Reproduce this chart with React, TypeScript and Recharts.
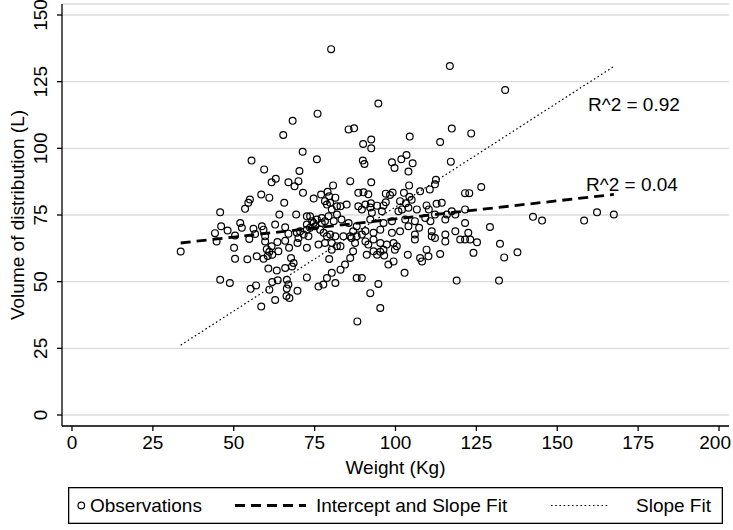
import {
  CartesianGrid,
  Label,
  ReferenceDot,
  Scatter,
  ScatterChart,
  XAxis,
  YAxis,
} from "recharts";

// body weight (kg) and volume of distribution (L), one entry per patient
const weightKg = [
  33.6, 44.2, 44.7, 45.8, 46.1, 48.1, 45.8, 48.8, 50.4, 50.1, 50.4, 52.0, 52.5, 53.5, 54.5, 55.0, 54.2, 54.8, 55.5, 55.2, 56.1, 56.6, 57.1, 56.9,
  58.5, 58.5, 58.7, 59.2, 59.7, 59.7, 60.2, 61.0, 60.5, 59.2, 61.9, 61.7, 59.4, 61.0, 61.7, 63.0, 60.7, 63.3, 65.9, 61.9,
  63.6, 61.0, 62.8, 62.8, 63.5, 64.1, 65.3, 65.6, 65.9, 66.9, 67.1, 66.9, 68.8, 70.0, 66.4, 66.9, 66.4, 66.3, 67.2, 68.2,
  67.7, 68.5, 68.0, 69.3, 69.5, 70.0, 69.7, 69.7, 70.3, 71.3, 65.9, 63.8,
  75.7, 75.9, 71.4, 77.0, 79.0, 74.7, 80.7, 86.0, 80.1, 85.5, 87.2, 79.5, 78.2, 79.8, 81.4, 81.9, 80.3, 83.0, 84.9, 78.8,
  88.5, 89.6, 72.6, 75.7, 77.2, 79.3, 81.9, 83.3, 80.9, 74.2, 72.6, 73.6, 85.5, 88.0, 86.9, 89.6, 77.2, 74.7, 75.2, 78.2,
  73.6, 72.6, 70.5, 71.6, 76.7, 77.8, 78.8, 79.8, 81.4, 80.3, 78.2, 83.9, 86.0, 88.0, 73.1, 72.6, 76.2, 80.3, 81.9, 79.5,
  86.9, 86.0, 84.4, 83.0, 80.3, 78.8, 81.4, 77.7, 76.2, 72.6, 88.0, 89.6, 83.0, 87.5, 86.4,
  88.5, 90.1, 91.6, 97.0, 98.3, 99.1, 102.6, 104.2, 104.3, 94.7, 104.4, 90.0, 92.5, 92.5, 89.9, 90.4, 98.9, 101.8, 103.4, 105.3,
  99.7, 104.0, 92.5, 107.6, 90.7, 92.4, 92.2, 94.3, 96.3, 97.0, 95.8, 92.7, 101.4, 103.2, 105.0, 100.9, 102.0, 104.0, 106.6, 92.2,
  96.3, 98.9, 103.0, 106.0, 93.2, 95.3, 98.9, 101.4, 106.0, 90.7, 104.0, 106.0, 90.7, 91.6, 93.2, 95.3, 97.3, 99.4, 100.4, 96.3,
  95.3, 93.2, 94.3, 96.5, 99.8, 99.4, 97.8, 91.1, 103.8, 102.8, 94.7, 92.2, 95.3, 88.2,
  107.6, 108.2, 109.6, 110.2, 113.8, 118.9, 132.0, 129.2, 132.3, 133.6, 137.7, 133.9, 116.8, 123.4, 117.4, 113.8, 117.1, 126.5, 121.5, 122.8,
  112.5, 112.2, 110.6, 109.6, 110.3, 112.7, 114.3, 115.9, 118.5, 117.4, 121.5, 109.2, 110.8, 115.4, 112.2, 111.2, 115.4, 118.5, 112.2, 115.4,
  111.2, 120.0, 121.5, 123.1, 125.2, 124.1, 122.5, 121.5, 107.3,
  142.5, 145.3, 158.3, 162.3, 167.5,
];

const volumeL = [
  61.3, 68.2, 65.1, 76, 70.8, 69.2, 50.7, 49.5, 67.3, 62.7, 58.6, 72, 70.2, 77.3, 79.6, 80.8, 58.4, 66, 95.4, 47.3, 69.8, 67.9, 59.5, 48.6,
  82.7, 40.7, 70.8, 69.5, 67, 65.1, 62.2, 61.2, 59.6, 58.6, 60.1, 63.3, 92.1, 81.5, 87.3, 88.6, 54.9, 54.2, 55.1, 49.9,
  50.5, 47, 43.1, 71.4, 64.9, 75.2, 105, 79.6, 70.4, 68, 62.7, 87.3, 85.8, 87.7, 50.7, 48.9, 47.4, 44.6, 43.9, 110.3,
  58.9, 57, 55.7, 75.2, 68.3, 66.4, 64.5, 46.6, 91.5, 98.7, 65.3, 61.4,
  95.9, 113, 83.3, 82.7, 83.7, 81.2, 86.1, 87.7, 137.2, 107.1, 107.5, 82, 80.2, 79.6, 81.5, 78.3, 77.1, 78.3, 78.9, 78.9,
  78.3, 77.1, 74.5, 73.3, 73.9, 74.5, 75.2, 73.3, 72.7, 72.7, 71.4, 74.5, 72, 70.8, 68.9, 67.7, 72, 72, 70.8, 72.7,
  70.2, 69.5, 68.9, 67.7, 69.5, 68.3, 67, 67.7, 67, 64.5, 64.5, 67, 67, 67, 67, 62.7, 63.9, 62, 63.3, 58.5,
  61.4, 58.9, 56.4, 54.5, 53.3, 51.4, 49.5, 48.9, 48.2, 51.6, 51.4, 51.4, 63.3, 64.5, 66.4,
  83.3, 83.5, 82.8, 83, 82.5, 83.4, 83.3, 86.1, 81.8, 116.8, 104.4, 101.6, 103.3, 100, 95.4, 94.1, 94.8, 95.9, 97.5, 94.4,
  92.6, 91.3, 87.3, 83.9, 78.9, 79.4, 77.8, 78.5, 78.6, 79.8, 76.4, 75.8, 80.2, 79.4, 80.7, 76.4, 77.1, 77.7, 77.1, 73.3,
  72, 72.7, 73.3, 72.7, 68.3, 69.5, 68.3, 68.9, 67.7, 69, 70.8, 65.8, 65.1, 63.9, 65.8, 64.5, 63.9, 64.5, 63.3, 62,
  61.2, 61.4, 60.1, 59.8, 62, 57.6, 56.4, 60.1, 60.1, 53.3, 49.1, 45.7, 40.1, 35.1,
  58.9, 57.6, 62, 59.5, 60.4, 50.4, 50.4, 70.5, 64.2, 59.1, 61, 121.9, 130.9, 105.6, 107.4, 102.4, 95, 85.5, 83.2, 83.2,
  88.2, 86.5, 84.6, 78.6, 77.1, 79.2, 79.6, 75.2, 75.2, 76.4, 77.1, 73.9, 72.7, 73.3, 75.2, 68.9, 67.7, 68.9, 66.4, 65.1,
  67, 65.8, 65.8, 65.8, 64.8, 60.8, 68.3, 72, 70.2,
  74.3, 72.9, 72.9, 76, 75.2,
];

// fitted lines, evaluated at the lightest and heaviest patient
const fitWeightKg = [33.6, 167.5];
const interceptSlopeFitL = [64.5, 82.7];
const slopeOnlyFitL = [26.2, 130.7];

const xTicks = [0, 25, 50, 75, 100, 125, 150, 175, 200];
const yTicks = [0, 25, 50, 75, 100, 125, 150];

const r2Notes = [
  { weight: 173.7, volume: 116.5, text: "R^2 = 0.92" },
  { weight: 173.1, volume: 86.6, text: "R^2 = 0.04" },
];

const observations = weightKg.map((weight, i) => ({ weight, volume: volumeL[i] }));
const interceptSlopeLine = fitWeightKg.map((weight, i) => ({ weight, volume: interceptSlopeFitL[i] }));
const slopeLine = fitWeightKg.map((weight, i) => ({ weight, volume: slopeOnlyFitL[i] }));

const FONT = '"Liberation Sans", Arial, Helvetica, sans-serif';
const FONT_SIZE = 19;
const CHART_W = 733;
const axisStroke = { stroke: "#000", strokeWidth: 1.3 };

function HollowCircle({ cx, cy }: { cx?: number; cy?: number }) {
  if (cx == null || cy == null) return <g />;
  return <circle cx={cx} cy={cy} r={3.4} fill="none" stroke="#000" strokeWidth={1.2} />;
}

function NoMarker() {
  return <g />;
}

// keep the last label ("200") inside the picture instead of letting the edge cut it
function WeightTick({ x, y, payload }: any) {
  const label = String(payload.value);
  const half = (label.length * 0.556 * FONT_SIZE) / 2;
  const cx = Math.min(x, CHART_W - 2 - half);
  return (
    <text x={cx} y={y} dy="0.71em" textAnchor="middle" fontSize={FONT_SIZE} fill="#000">
      {label}
    </text>
  );
}

function VerticalTick({ x, y, payload }: any) {
  const cx = x - 15;
  return (
    <text x={cx} y={y} dy="0.35em" textAnchor="middle" fontSize={FONT_SIZE} fill="#000" transform={`rotate(-90 ${cx} ${y})`}>
      {payload.value}
    </text>
  );
}

function YTitle({ viewBox }: any) {
  if (!viewBox) return null;
  const cx = viewBox.x + 17;
  const cy = viewBox.y + viewBox.height / 2;
  return (
    <text x={cx} y={cy} dy="0.35em" textAnchor="middle" fontSize={FONT_SIZE} fill="#000" transform={`rotate(-90 ${cx} ${cy})`}>
      Volume of distribution (L)
    </text>
  );
}

function XTitle({ viewBox }: any) {
  if (!viewBox) return null;
  return (
    <text x={viewBox.x + viewBox.width / 2} y={viewBox.y + 47.5} textAnchor="middle" fontSize={FONT_SIZE} fill="#000">
      Weight (Kg)
    </text>
  );
}

function FitLegend() {
  return (
    <svg width={655} height={37} style={{ position: "absolute", left: 68, top: 487 }}>
      <rect x={0.65} y={0.65} width={653.7} height={35.7} fill="#fff" stroke="#000" strokeWidth={1.3} />
      <circle cx={13.3} cy={18.5} r={3.3} fill="none" stroke="#000" strokeWidth={1.2} />
      <text x={22} y={25.3} fontSize={FONT_SIZE} fill="#000">Observations</text>
      <line x1={167} x2={238} y1={18.5} y2={18.5} stroke="#000" strokeWidth={2.8} strokeDasharray="10 6" />
      <text x={248} y={25.3} fontSize={FONT_SIZE} fill="#000">Intercept and Slope Fit</text>
      <line x1={483} x2={540} y1={18.5} y2={18.5} stroke="#000" strokeWidth={1.2} strokeDasharray="1.6 2.6" />
      <text x={568} y={25.3} fontSize={FONT_SIZE} fill="#000">Slope Fit</text>
    </svg>
  );
}

export default function App() {
  return (
    <div style={{ position: "absolute", left: 0, top: 0, width: CHART_W, height: 530, background: "#fff", fontFamily: FONT, overflow: "hidden" }}>
      <ScatterChart width={CHART_W} height={530} margin={{ top: 4, right: 4, bottom: 70, left: 0 }}>
        <CartesianGrid vertical={false} stroke="#dadada" strokeWidth={1.3} />
        <XAxis
          type="number"
          dataKey="weight"
          domain={[-3.09, 203.09]}
          allowDataOverflow
          ticks={xTicks}
          interval={0}
          height={34}
          tickSize={5}
          tickMargin={5}
          axisLine={axisStroke}
          tickLine={axisStroke}
          tick={<WeightTick />}
        >
          <Label content={<XTitle />} />
        </XAxis>
        <YAxis
          type="number"
          dataKey="volume"
          domain={[-4.125, 154.125]}
          allowDataOverflow
          ticks={yTicks}
          interval={0}
          width={62}
          tickSize={5}
          axisLine={axisStroke}
          tickLine={axisStroke}
          tick={<VerticalTick />}
        >
          <Label content={<YTitle />} />
        </YAxis>
        <Scatter data={observations} shape={<HollowCircle />} isAnimationActive={false} />
        <Scatter data={interceptSlopeLine} shape={<NoMarker />} line={{ stroke: "#000", strokeWidth: 2.8, strokeDasharray: "10 6" }} isAnimationActive={false} />
        <Scatter data={slopeLine} shape={<NoMarker />} line={{ stroke: "#000", strokeWidth: 1.2, strokeDasharray: "1.6 2.6" }} isAnimationActive={false} />
        {r2Notes.map((note) => (
          <ReferenceDot
            key={note.text}
            x={note.weight}
            y={note.volume}
            r={0}
            fill="none"
            stroke="none"
            label={{ value: note.text, fontSize: FONT_SIZE, fill: "#000", position: "center" }}
          />
        ))}
      </ScatterChart>
      <FitLegend />
    </div>
  );
}
